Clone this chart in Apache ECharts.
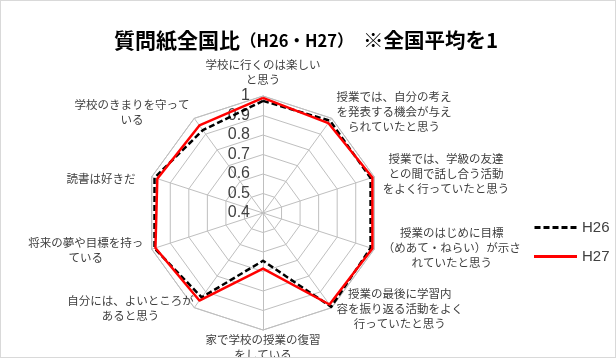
<!DOCTYPE html>
<html lang="ja">
<head>
<meta charset="utf-8">
<title>質問紙全国比</title>
<script src="https://cdn.jsdelivr.net/npm/echarts@6/dist/echarts.min.js"></script>
<style>
html, body { margin: 0; padding: 0; background: #fff; }
#main { width: 616px; height: 358px; box-sizing: border-box; border: 1px solid #d9d9d9; }
</style>
</head>
<body>
<div id="main"></div>
<script>
// 設問（時計回り、改行位置は元の図に合わせる）
var questions = [
    '学校に行くのは楽しい\nと思う',
    '授業では、自分の考え\nを発表する機会が与え\nられていたと思う',
    '授業では、学級の友達\nとの間で話し合う活動\nをよく行っていたと思う',
    '授業のはじめに目標\n（めあて・ねらい）が示さ\nれていたと思う',
    '授業の最後に学習内\n容を振り返る活動をよく\n行っていたと思う',
    '家で学校の授業の復習\nをしている',
    '自分には、よいところが\nあると思う',
    '将来の夢や目標を持っ\nている',
    '読書は好きだ',
    '学校のきまりを守って\nいる'
];
var seriesNames = ['H26', 'H27'];
var valuesH26 = [0.975, 0.985, 0.98, 0.98, 0.995, 0.645, 0.935, 0.985, 0.985, 0.925];
var valuesH27 = [0.99, 0.97, 0.99, 0.99, 0.98, 0.685, 0.955, 0.98, 0.97, 0.955];
var axisMin = 0.4;
var axisMax = 1;
var axisSplit = 6;

// 設問ラベルの配置（gap, 横揃え, 縦揃え, 下padding）
var nameLayout = [
    [9, 'center', 'bottom', 0],
    [8, 'left', 'middle', 0],
    [9, 'left', 'middle', 0],
    [9, 'left', 'middle', 8],
    [8, 'left', 'middle', 12],
    [2, 'center', 'top', 0],
    [1, 'right', 'middle', 0],
    [9, 'right', 'middle', 4],
    [17, 'right', 'top', 4],
    [8, 'right', 'middle', 0]
];

var jpFont = '"Noto Sans CJK JP", sans-serif';
var textColor = '#404040';
var gridColor = '#bfbfbf';

// echartsのレーダーは反時計回りなので順番を入れ替える
var order = [0];
for (var k = questions.length - 1; k > 0; k--) order.push(k);

var indicators = [];
var dataH26 = [];
var dataH27 = [];
for (var j = 0; j < order.length; j++) {
    var i = order[j];
    var item = {
        name: questions[i],
        min: axisMin,
        max: axisMax,
        nameGap: nameLayout[i][0],
        nameTextStyle: {
            align: nameLayout[i][1],
            verticalAlign: nameLayout[i][2],
            padding: [0, 0, nameLayout[i][3], 0]
        }
    };
    if (j === 0) {
        // 目盛ラベルは最初の軸だけ
        item.axisLabel = {
            show: true, fontSize: 16, color: textColor, margin: 13, fontFamily: 'Liberation Sans',
            formatter: function (v) { return String(+(+v).toFixed(1)); }
        };
    }
    indicators.push(item);
    dataH26.push(valuesH26[i]);
    dataH27.push(valuesH27[i]);
}

var dashIcon = 'path://M0,0h6v3h-6z M9,0h6v3h-6z M18,0h6v3h-6z M27,0h6v3h-6z M36,0h6v3h-6z';

var myChart = echarts.init(document.getElementById('main'));
var option = {
    animation: false,
    backgroundColor: '#fff',
    title: {
        text: '質問紙全国比{p|（H26・H27）}  {s|※全国平均を1}',
        left: 108,
        top: 24,
        textStyle: {
            fontFamily: jpFont,
            fontSize: 21,
            fontWeight: 'bold',
            color: '#000',
            rich: {
                p: { fontFamily: jpFont, fontSize: 16.5, fontWeight: 'bold', color: '#000' },
                s: { fontFamily: jpFont, fontSize: 20.5, fontWeight: 'bold', color: '#000' }
            }
        }
    },
    legend: {
        orient: 'vertical',
        left: 528,
        top: 214,
        itemWidth: 43,
        itemHeight: 3,
        itemGap: 14,
        textStyle: { fontFamily: 'Liberation Sans', fontSize: 15, color: textColor },
        data: [
            { name: seriesNames[0], icon: dashIcon, itemStyle: { color: '#000', borderWidth: 0 } },
            { name: seriesNames[1], icon: 'rect', itemStyle: { color: '#ff0000', borderWidth: 0 } }
        ]
    },
    radar: {
        center: [262, 212],
        radius: 117,
        startAngle: 90,
        splitNumber: axisSplit,
        shape: 'polygon',
        indicator: indicators,
        axisName: {
            color: textColor,
            fontFamily: jpFont,
            fontSize: 11.5,
            lineHeight: 15,
            formatter: function (name) {
                return name.split('\n').map(function (s) { return '{c|' + s + '}'; }).join('\n');
            },
            rich: {
                c: { align: 'center', fontFamily: jpFont, fontSize: 11.5, lineHeight: 15, color: textColor }
            }
        },
        axisLabel: { show: false },
        axisTick: { show: false },
        axisLine: { lineStyle: { color: gridColor, width: 1 } },
        splitLine: { lineStyle: { color: gridColor, width: 1 } },
        splitArea: { show: false }
    },
    series: [{
        type: 'radar',
        symbol: 'none',
        data: [
            {
                name: seriesNames[0],
                value: dataH26,
                lineStyle: { color: '#000', width: 2.5, type: [6, 3] },
                itemStyle: { color: '#000' }
            },
            {
                name: seriesNames[1],
                value: dataH27,
                lineStyle: { color: '#ff0000', width: 2.5, type: 'solid' },
                itemStyle: { color: '#ff0000' }
            }
        ]
    }]
};
myChart.setOption(option);
</script>
</body>
</html>
